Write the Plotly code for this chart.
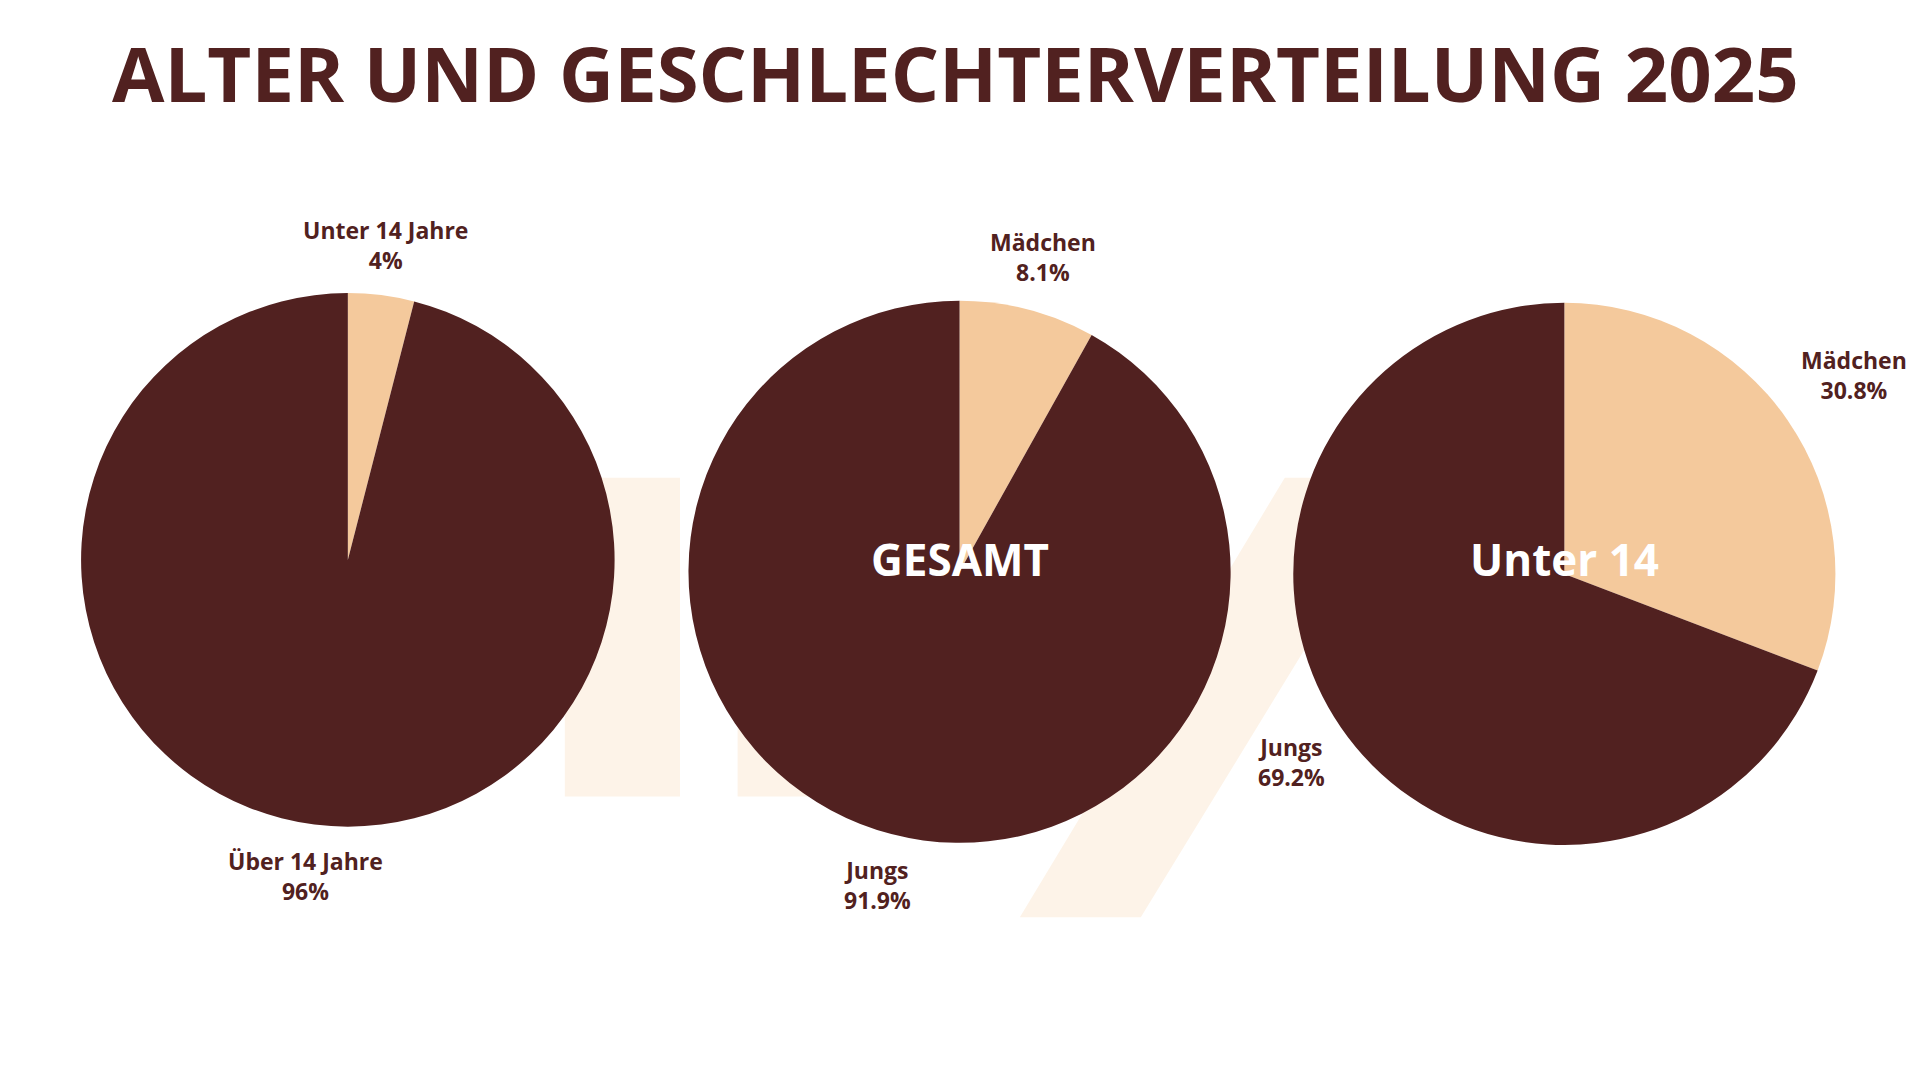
import plotly.graph_objects as go

DARK = "#512120"
LIGHT = "#F4C99C"

title = "ALTER UND GESCHLECHTERVERTEILUNG 2025"
age_labels = ["Unter 14 Jahre", "Über 14 Jahre"]
age_values = [4.0, 96.0]
total_labels = ["Mädchen", "Jungs"]
total_values = [8.1, 91.9]
u14_labels = ["Mädchen", "Jungs"]
u14_values = [30.8, 69.2]
center_texts = ["", "GESAMT", "Unter 14"]

pies = [
    (age_labels, age_values, 0.177, 0.489, 0.247, [(0.1965, 0.781), (0.155, 0.196)]),
    (total_labels, total_values, 0.4956, 0.478, 0.251, [(0.539, 0.769), (0.453, 0.188)]),
    (u14_labels, u14_values, 0.8106, 0.476, 0.251, [(0.9615, 0.66), (0.6685, 0.302)]),
]

fig = go.Figure()
# faint watermark shapes
fig.add_shape(type="path", xref="paper", yref="paper", layer="below",
              path="M 0.29 0.565 L 0.35 0.565 L 0.35 0.27 L 0.29 0.27 Z",
              fillcolor="#FDF3E8", line_width=0)
fig.add_shape(type="path", xref="paper", yref="paper", layer="below",
              path="M 0.38 0.565 L 0.45 0.565 L 0.45 0.27 L 0.38 0.27 Z",
              fillcolor="#FDF3E8", line_width=0)
fig.add_shape(type="path", xref="paper", yref="paper", layer="below",
              path="M 0.665 0.565 L 0.73 0.565 L 0.59 0.158 L 0.527 0.158 Z",
              fillcolor="#FDF3E8", line_width=0)

annotations = []
for i, (labs, vals, cx, cy, r, pos) in enumerate(pies):
    rx = r * 1080 / 1920
    fig.add_trace(go.Pie(
        labels=labs, values=vals, sort=False, direction="clockwise", rotation=0,
        marker=dict(colors=[LIGHT, DARK], line=dict(width=0)),
        textinfo="none", hoverinfo="label+percent", showlegend=False,
        domain=dict(x=[cx - rx, cx + rx], y=[cy - r, cy + r]),
    ))
    total = sum(vals)
    for (ax, ay), lab, v in zip(pos, labs, vals):
        pct = round(v / total * 100, 1)
        pct_s = f"{pct:g}%"
        annotations.append(dict(x=ax, y=ay, xref="paper", yref="paper",
                                text=f"<b>{lab}</b><br><b>{pct_s}</b>", showarrow=False,
                                font=dict(family="Open Sans", size=23, color=DARK),
                                align="center", xanchor="center", yanchor="middle"))
    if center_texts[i]:
        annotations.append(dict(x=cx, y=0.49, xref="paper", yref="paper",
                                text=f"<b>{center_texts[i]}</b>", showarrow=False,
                                xanchor="center", yanchor="middle",
                                font=dict(family="Open Sans", size=44, color="white")))

annotations.append(dict(x=0.4935, y=0.94, xref="paper", yref="paper",
                        text=f"<b>{title}</b>", showarrow=False,
                        xanchor="center", yanchor="middle",
                        font=dict(family="Open Sans", size=76, color=DARK)))

fig.update_layout(width=1920, height=1080, margin=dict(l=0, r=0, t=0, b=0),
                  paper_bgcolor="white", plot_bgcolor="white", annotations=annotations)
fig.write_html("out.html")
